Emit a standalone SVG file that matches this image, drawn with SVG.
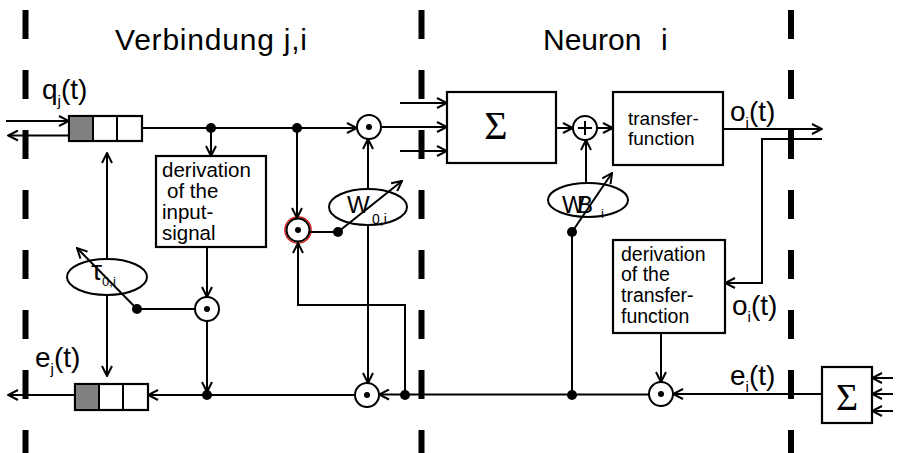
<svg xmlns="http://www.w3.org/2000/svg" width="898" height="453" viewBox="0 0 898 453">
<style>
.ln{stroke:#000;stroke-width:2;fill:none}
.bx{stroke:#000;stroke-width:2.2;fill:#fff}
.dash{stroke:#000;stroke-width:6;stroke-dasharray:29 31}
.t{font-family:"Liberation Sans",Arial,sans-serif;fill:#000}
.s{font-family:"Liberation Serif","Times New Roman",serif;fill:#000}
.dot{fill:#000}
</style>
<defs>
<marker id="a" viewBox="0 0 12 12" refX="11" refY="6" markerWidth="12" markerHeight="12" markerUnits="userSpaceOnUse" orient="auto">
<path d="M1,1 L11,6 L1,11" fill="none" stroke="#000" stroke-width="2"/>
</marker>
</defs>
<rect width="898" height="453" fill="#fff"/>
<g id="separators">
<line class="dash" x1="25.5" y1="10" x2="25.5" y2="453"/>
<line class="dash" x1="421.5" y1="10" x2="421.5" y2="453"/>
<line class="dash" x1="791" y1="10" x2="791" y2="453"/>
</g>
<g id="titles">
<text class="t" x="115" y="50" font-size="30" textLength="192">Verbindung j,i</text>
<text class="t" x="543" y="50" font-size="30">Neuron</text>
<text class="t" x="661" y="50" font-size="30">i</text>
</g>
<g id="queue-in">
<rect class="bx" x="69" y="116" width="73" height="25"/>
<rect x="70" y="117" width="23" height="23" fill="#808080"/>
<line class="ln" x1="93" y1="116" x2="93" y2="141"/>
<line class="ln" x1="117" y1="116" x2="117" y2="141"/>
</g>
<g id="queue-out">
<rect class="bx" x="75" y="384" width="73" height="26"/>
<rect x="76" y="385" width="23" height="24" fill="#808080"/>
<line class="ln" x1="99" y1="384" x2="99" y2="410"/>
<line class="ln" x1="123" y1="384" x2="123" y2="410"/>
</g>
<g id="deriv-input">
<rect class="bx" x="156" y="156" width="110" height="91"/>
<text class="t" font-size="20.5"><tspan x="162" y="177">derivation</tspan><tspan x="167" y="198">of the</tspan><tspan x="162" y="219">input-</tspan><tspan x="162" y="240">signal</tspan></text>
</g>
<g id="mult-tau">
<circle class="ln" cx="207" cy="309" r="12"/><circle class="dot" cx="207" cy="309" r="3"/>
</g>
<g id="tau">
<ellipse class="ln" cx="107" cy="277" rx="40" ry="18" fill="#fff"/>
<text class="t" x="91" y="280" font-size="28">τ<tspan font-size="13" dy="6">0,i</tspan></text>
</g>
<g id="mult-top">
<circle class="ln" cx="369" cy="127" r="12"/><circle class="dot" cx="369" cy="127" r="3"/>
</g>
<g id="mult-red">
<circle cx="298" cy="230" r="13.2" fill="none" stroke="#d00" stroke-width="1.2"/>
<circle class="ln" cx="298" cy="230" r="11.5"/><circle class="dot" cx="298" cy="230" r="3"/>
</g>
<g id="weight">
<ellipse class="ln" cx="368" cy="207" rx="39" ry="18" fill="#fff"/>
<text class="t" x="347" y="213" font-size="24" textLength="22">W</text>
<text class="t" x="372" y="224" font-size="14">0,i</text>
</g>
<g id="mult-bottom">
<circle class="ln" cx="367" cy="395" r="12"/><circle class="dot" cx="367" cy="395" r="3"/>
</g>
<g id="sum">
<rect class="bx" x="447" y="92" width="109" height="71"/>
<text class="s" x="496" y="139" font-size="40" text-anchor="middle">Σ</text>
</g>
<g id="plus">
<circle class="ln" cx="585" cy="128" r="12"/>
<line class="ln" x1="578" y1="128" x2="592" y2="128" stroke-width="2.6"/>
<line class="ln" x1="585" y1="121" x2="585" y2="135" stroke-width="2.6"/>
</g>
<g id="bias">
<ellipse class="ln" cx="588" cy="200" rx="40" ry="17" fill="#fff"/>
<text class="t" x="562" y="213" font-size="24" textLength="31">WB</text>
<text class="t" x="601" y="218" font-size="13">i</text>
</g>
<g id="transfer">
<rect class="bx" x="613" y="92" width="110" height="73"/>
<text class="t" font-size="19"><tspan x="628" y="125">transfer-</tspan><tspan x="628" y="145">function</tspan></text>
</g>
<g id="deriv-transfer">
<rect class="bx" x="613" y="240" width="112" height="93"/>
<text class="t" font-size="19.5"><tspan x="621" y="261">derivation</tspan><tspan x="621" y="281">of the</tspan><tspan x="621" y="302">transfer-</tspan><tspan x="621" y="323">function</tspan></text>
</g>
<g id="mult-error">
<circle class="ln" cx="661" cy="394" r="12"/><circle class="dot" cx="661" cy="394" r="3"/>
</g>
<g id="sum-error">
<rect class="bx" x="822" y="367" width="50" height="56"/>
<text class="s" x="847" y="410" font-size="38" text-anchor="middle">Σ</text>
</g>
<g id="labels">
<text class="t" x="42" y="99" font-size="28">q<tspan font-size="15" dy="7">j</tspan><tspan dy="-7">(t)</tspan></text>
<text class="t" x="35" y="367" font-size="28">e<tspan font-size="15" dy="7">j</tspan><tspan dy="-7">(t)</tspan></text>
<text class="t" x="730" y="121" font-size="28">o<tspan font-size="15" dy="7">i</tspan><tspan dy="-7">(t)</tspan></text>
<text class="t" x="732" y="315" font-size="28">o<tspan font-size="15" dy="7">i</tspan><tspan dy="-7">(t)</tspan></text>
<text class="t" x="730" y="385" font-size="28">e<tspan font-size="15" dy="7">i</tspan><tspan dy="-7">(t)</tspan></text>
</g>
<g id="connectors" class="ln" marker-end="url(#a)">
<line x1="6" y1="121" x2="69" y2="121"/>
<line x1="69" y1="135.5" x2="8" y2="135.5"/>
<line x1="142" y1="128" x2="357" y2="128"/>
<line x1="211" y1="128" x2="211" y2="156"/>
<line x1="297" y1="128" x2="297" y2="218"/>
<line x1="381" y1="127" x2="447" y2="127"/>
<line x1="400" y1="103" x2="447" y2="103"/>
<line x1="400" y1="151" x2="447" y2="151"/>
<line x1="556" y1="128" x2="573" y2="128"/>
<line x1="597" y1="128" x2="613" y2="128"/>
<line x1="586" y1="183" x2="586" y2="140"/>
<line x1="572" y1="232" x2="612" y2="173"/>
<line x1="572" y1="232" x2="572" y2="395" marker-end="none"/>
<line x1="723" y1="129" x2="822" y2="129"/>
<polyline points="822,139 762,139 762,283 725,283"/>
<line x1="661" y1="333" x2="661" y2="382"/>
<line x1="822" y1="394" x2="673" y2="394"/>
<line x1="649" y1="394.5" x2="379" y2="394.5"/>
<line x1="893" y1="378" x2="872" y2="378"/>
<line x1="893" y1="394" x2="872" y2="394"/>
<line x1="893" y1="411" x2="872" y2="411"/>
<polyline points="405,395 405,305 298,305 298,243"/>
<line x1="310" y1="232" x2="338" y2="232" marker-end="none"/>
<line x1="338" y1="232" x2="402" y2="181"/>
<line x1="368" y1="189" x2="368" y2="139"/>
<line x1="368" y1="225" x2="368" y2="383"/>
<line x1="355" y1="395" x2="148" y2="395"/>
<line x1="207" y1="247" x2="207" y2="297"/>
<line x1="207" y1="321" x2="207" y2="392"/>
<line x1="137" y1="309" x2="195" y2="309" marker-end="none"/>
<line x1="137" y1="309" x2="77" y2="248"/>
<line x1="107" y1="259" x2="107" y2="153"/>
<line x1="107" y1="295" x2="107" y2="376"/>
<line x1="75" y1="395" x2="8" y2="395"/>
</g>
<g id="junctions" class="dot">
<circle cx="211" cy="128" r="5"/>
<circle cx="297" cy="128" r="5"/>
<circle cx="338" cy="232" r="5"/>
<circle cx="572" cy="232" r="5"/>
<circle cx="572" cy="395" r="5"/>
<circle cx="405" cy="395" r="5"/>
<circle cx="207" cy="395" r="5"/>
<circle cx="137" cy="309" r="5"/>
</g>
</svg>
